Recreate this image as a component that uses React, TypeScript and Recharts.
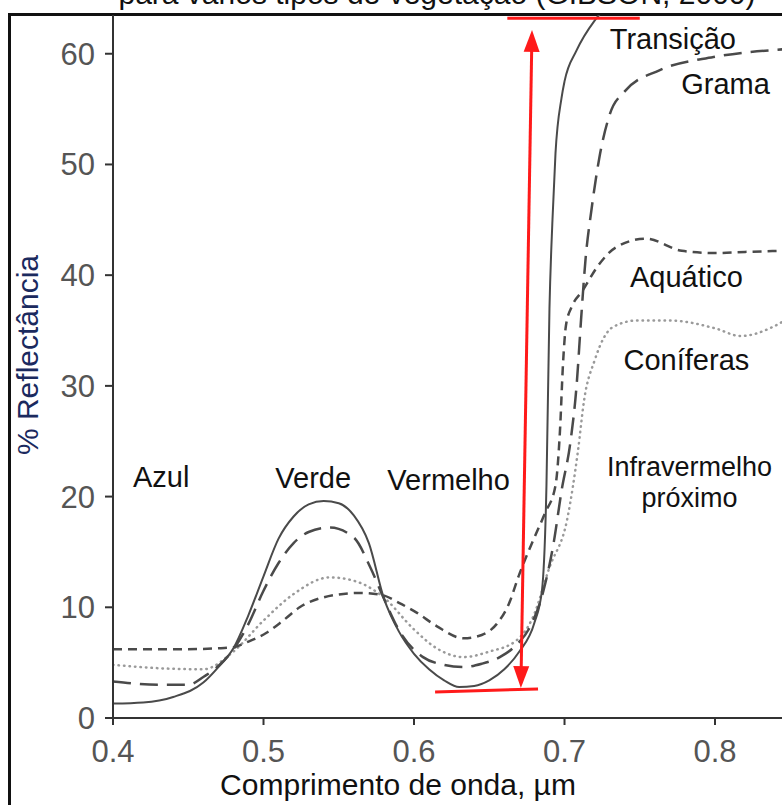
// Reflectance spectra of vegetation types (visible to near infrared)
import { LineChart, Line, XAxis, YAxis, ReferenceLine, ReferenceDot } from "recharts";

// wavelength (µm) and % reflectance
const transicaoX = [0.40, 0.42, 0.44, 0.46, 0.47, 0.48, 0.49, 0.50, 0.51, 0.52, 0.53, 0.54, 0.55, 0.56, 0.57, 0.58, 0.59, 0.60, 0.61, 0.62, 0.63, 0.64, 0.65, 0.66, 0.67, 0.68, 0.685, 0.688, 0.69, 0.692, 0.694, 0.698, 0.70, 0.708, 0.72, 0.73];
const transicaoY = [1.3, 1.4, 1.9, 3.2, 4.6, 6.3, 9.3, 12.8, 16.2, 18.2, 19.3, 19.6, 19.4, 18.3, 15.8, 10.8, 7.8, 5.8, 4.4, 3.4, 2.8, 2.9, 3.4, 4.4, 6.0, 8.6, 11.5, 21, 37, 45, 51, 56, 57.5, 60.3, 63, 64.5];

const gramaX = [0.40, 0.43, 0.45, 0.46, 0.47, 0.48, 0.49, 0.50, 0.51, 0.52, 0.53, 0.544, 0.56, 0.571, 0.579, 0.591, 0.606, 0.62, 0.633, 0.645, 0.657, 0.668, 0.677, 0.686, 0.693, 0.698, 0.704, 0.708, 0.711, 0.714, 0.718, 0.723, 0.73, 0.74, 0.763, 0.799, 0.845];
const gramaY = [3.3, 3.0, 3.0, 3.7, 4.7, 6.2, 8.5, 11.5, 14.0, 15.8, 16.8, 17.2, 16.3, 13.6, 11.1, 7.7, 5.5, 4.8, 4.6, 4.9, 5.5, 6.6, 8.2, 11.5, 16, 20.5, 25, 30, 36, 41.5, 46, 50.5, 54.5, 56.6, 58.5, 59.7, 60.4];

const aquaticoX = [0.40, 0.44, 0.47, 0.48, 0.49, 0.502, 0.513, 0.524, 0.54, 0.564, 0.579, 0.59, 0.602, 0.615, 0.633, 0.645, 0.655, 0.663, 0.670, 0.679, 0.687, 0.694, 0.697, 0.699, 0.701, 0.705, 0.712, 0.722, 0.734, 0.754, 0.778, 0.80, 0.82, 0.845];
const aquaticoY = [6.2, 6.2, 6.3, 6.4, 6.9, 7.7, 8.8, 10.0, 10.9, 11.3, 11.1, 10.4, 9.5, 8.3, 7.2, 7.5, 8.5, 10.3, 13, 16, 18.5, 21, 26, 32, 35.5, 37.2, 38.6, 40.8, 42.5, 43.3, 42.2, 42.0, 42.1, 42.2];

const coniferasX = [0.40, 0.43, 0.46, 0.48, 0.50, 0.52, 0.544, 0.56, 0.579, 0.60, 0.615, 0.633, 0.65, 0.668, 0.679, 0.69, 0.702, 0.709, 0.713, 0.72, 0.732, 0.748, 0.77, 0.80, 0.817, 0.838, 0.845];
const coniferasY = [4.8, 4.5, 4.4, 6.0, 8.8, 11.2, 12.7, 12.4, 11.0, 8.0, 6.3, 5.5, 6.0, 7.0, 9.1, 13.6, 18.1, 24.2, 28.7, 32.3, 35.3, 35.9, 35.9, 35.2, 34.5, 35.3, 35.8];

const xTicks = [0.4, 0.5, 0.6, 0.7, 0.8];
const yTicks = [0, 10, 20, 30, 40, 50, 60];

// in-plot labels (wavelength, reflectance)
const bandLabels = ["Azul", "Verde", "Vermelho", "Transição", "Grama", "Aquático", "Coníferas", "Infravermelho", "próximo"];
const bandLabelX = [0.432, 0.533, 0.623, 0.772, 0.807, 0.781, 0.781, 0.783, 0.783];
const bandLabelY = [21.8, 21.7, 21.5, 61.4, 57.3, 39.9, 32.4, 22.7, 19.9];
const bandLabelSize = [29, 29, 29, 29, 29, 29, 29, 27, 27];

const toPoints = (xs: number[], ys: number[]) => xs.map((x, i) => ({ x, y: ys[i] }));

const FONT = "'Liberation Sans', Arial, sans-serif";
const GREY = "#4a4a4a";
const RED = "#ff1a1a";

// red double-headed arrow drawn between the segment end points
function DoubleArrow(props: any) {
  const { x1, y1, x2, y2 } = props;
  const dx = x2 - x1;
  const dy = y2 - y1;
  const len = Math.sqrt(dx * dx + dy * dy) || 1;
  const ux = dx / len;
  const uy = dy / len;
  const hl = 22;
  const hw = 8;
  const head = (tx: number, ty: number, dir: number) => {
    const bx = tx - dir * ux * hl;
    const by = ty - dir * uy * hl;
    return `${tx},${ty} ${bx - uy * hw},${by + ux * hw} ${bx + uy * hw},${by - ux * hw}`;
  };
  return (
    <g>
      <line x1={x1 + ux * hl * 0.8} y1={y1 + uy * hl * 0.8} x2={x2 - ux * hl * 0.8} y2={y2 - uy * hl * 0.8} stroke={RED} strokeWidth={3} />
      <polygon points={head(x1, y1, -1)} fill={RED} />
      <polygon points={head(x2, y2, 1)} fill={RED} />
    </g>
  );
}

export default function App() {
  return (
    <div style={{ position: "fixed", left: 0, top: 0, width: 782, height: 805, overflow: "hidden", background: "#fff", fontFamily: FONT }}>
      {/* title, cut by the top of the page */}
      <div style={{ position: "absolute", left: 437, top: -21, transform: "translateX(-50%)", whiteSpace: "nowrap", fontSize: 30, lineHeight: "30px", color: "#111" }}>
        para vários tipos de vegetação (GIBSON, 2000)
      </div>

      {/* frame */}
      <div style={{ position: "absolute", left: 8, top: 13, width: 800, height: 800, borderLeft: "3px solid #111", borderTop: "3px solid #111" }} />

      <div style={{ position: "absolute", left: 0, top: 0 }}>
        <LineChart width={782} height={805} margin={{ top: 15, right: 0, left: 0, bottom: 0 }}>
          <XAxis
            type="number"
            dataKey="x"
            domain={[0.4, 0.8445]}
            ticks={xTicks}
            allowDataOverflow
            tickFormatter={(v: number) => v.toFixed(1)}
            height={87}
            tickSize={7}
            tickMargin={15}
            axisLine={{ stroke: "#333", strokeWidth: 2 }}
            tickLine={{ stroke: "#333", strokeWidth: 2 }}
            tick={{ fontSize: 31, fill: "#555", fontFamily: FONT }}
          />
          <YAxis
            type="number"
            domain={[0, 63.5]}
            ticks={yTicks}
            allowDataOverflow
            width={113}
            tickSize={8}
            tickMargin={10}
            axisLine={{ stroke: "#333", strokeWidth: 2 }}
            tickLine={{ stroke: "#333", strokeWidth: 2 }}
            tick={{ fontSize: 31, fill: "#555", fontFamily: FONT }}
          />

          <Line data={toPoints(coniferasX, coniferasY)} dataKey="y" type="monotone" stroke="#9a9a9a" strokeWidth={2.5} strokeDasharray="0.5 5" strokeLinecap="round" dot={false} isAnimationActive={false} />
          <Line data={toPoints(aquaticoX, aquaticoY)} dataKey="y" type="monotone" stroke={GREY} strokeWidth={2.5} strokeDasharray="9 6" dot={false} isAnimationActive={false} />
          <Line data={toPoints(gramaX, gramaY)} dataKey="y" type="monotone" stroke={GREY} strokeWidth={2.5} strokeDasharray="18 9" dot={false} isAnimationActive={false} />
          <Line data={toPoints(transicaoX, transicaoY)} dataKey="y" type="monotone" stroke={GREY} strokeWidth={2} dot={false} isAnimationActive={false} />

          {/* red marks: reflectance range from red absorption to NIR plateau */}
          <ReferenceLine segment={[{ x: 0.662, y: 63.2 }, { x: 0.750, y: 63.2 }]} stroke={RED} strokeWidth={3} ifOverflow="visible" />
          <ReferenceLine segment={[{ x: 0.614, y: 2.35 }, { x: 0.6824, y: 2.62 }]} stroke={RED} strokeWidth={3} ifOverflow="visible" />
          <ReferenceLine segment={[{ x: 0.6784, y: 62.15 }, { x: 0.671, y: 2.7 }]} ifOverflow="visible" shape={DoubleArrow} />

          {bandLabels.map((t, i) => (
            <ReferenceDot
              key={t}
              x={bandLabelX[i]}
              y={bandLabelY[i]}
              r={0}
              fill="none"
              stroke="none"
              ifOverflow="visible"
              label={{ value: t, position: "center", fontSize: bandLabelSize[i], fill: "#111", fontFamily: FONT }}
            />
          ))}
        </LineChart>
      </div>

      {/* axis titles */}
      <div style={{ position: "absolute", left: 28, top: 355, transform: "translate(-50%, -50%) rotate(-90deg)", whiteSpace: "nowrap", fontSize: 30, color: "#1b2a5e" }}>
        % Reflectância
      </div>
      <div style={{ position: "absolute", left: 398, top: 785, transform: "translate(-50%, -50%)", whiteSpace: "nowrap", fontSize: 30, color: "#111" }}>
        Comprimento de onda, µm
      </div>
    </div>
  );
}
